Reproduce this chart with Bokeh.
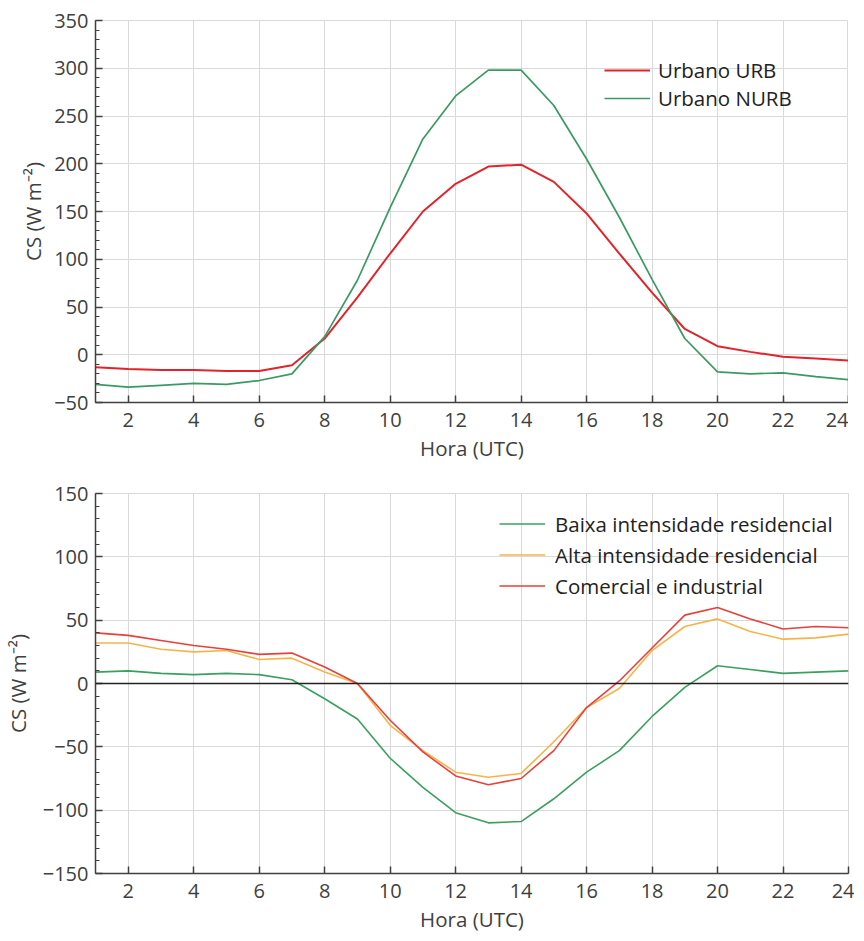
from bokeh.plotting import figure
from bokeh.models import Range1d, FixedTicker, Legend, LegendItem, Span
from bokeh.layouts import column
from bokeh.embed import file_html
from bokeh.resources import INLINE

hours = list(range(1, 25))

# Top panel
urb = [-13, -15, -16, -16, -17, -17, -11, 17, 60, 106, 150, 179, 197, 199, 181, 148, 106, 65, 27, 9, 3, -2, -4, -6]
nurb = [-31, -34, -32, -30, -31, -27, -20, 19, 78, 154, 226, 271, 298, 298, 261, 205, 144, 79, 17, -18, -20, -19, -23, -26]

# Bottom panel
baixa = [9, 10, 8, 7, 8, 7, 3, -12, -28, -59, -82, -102, -110, -109, -91, -70, -53, -26, -3, 14, 11, 8, 9, 10]
alta = [32, 32, 27, 25, 26, 19, 20, 9, 0, -33, -53, -70, -74, -71, -46, -19, -4, 26, 45, 51, 41, 35, 36, 39]
comercial = [40, 38, 34, 30, 27, 23, 24, 13, 0, -29, -54, -73, -80, -75, -53, -19, 2, 28, 54, 60, 51, 43, 45, 44]

x_ticks = list(range(2, 25, 2))
top_y_ticks = list(range(-50, 351, 50))
top_y_minor = list(range(-50, 351, 10))
bot_y_ticks = list(range(-150, 151, 50))
bot_y_minor = list(range(-150, 151, 10))

FONT = "Open Sans"
AX = "#404040"
GRID = "#d9d9d9"


def style(p, yticks, yminor, ylabel_standoff):
    p.xaxis.ticker = FixedTicker(ticks=x_ticks)
    p.yaxis.ticker = FixedTicker(ticks=yticks, minor_ticks=yminor)
    p.xgrid.ticker = FixedTicker(ticks=x_ticks)
    p.ygrid.ticker = FixedTicker(ticks=yticks)
    p.grid.grid_line_color = GRID
    p.grid.grid_line_width = 1
    p.outline_line_color = GRID
    p.outline_line_width = 1
    for ax in (p.xaxis[0], p.yaxis[0]):
        ax.axis_line_color = AX
        ax.axis_line_width = 1.5
        ax.major_tick_line_color = AX
        ax.major_tick_line_width = 1.5
        ax.minor_tick_line_color = AX
        ax.major_tick_out = 0
        ax.major_tick_in = 7
        ax.minor_tick_out = 0
        ax.minor_tick_in = 4
        ax.major_label_text_font = FONT
        ax.major_label_text_font_size = "20px"
        ax.major_label_text_color = AX
        ax.axis_label_text_font = FONT
        ax.axis_label_text_font_size = "20.5px"
        ax.axis_label_text_font_style = "normal"
        ax.axis_label_text_color = AX
    p.xaxis.minor_tick_line_color = None
    p.xaxis.major_label_standoff = 10
    p.yaxis.major_label_standoff = 7
    p.xaxis.axis_label = "Hora (UTC)"
    p.yaxis.axis_label = "CS (W m\u207b\u00b2)"
    p.xaxis.axis_label_standoff = 4
    p.yaxis.axis_label_standoff = ylabel_standoff
    p.background_fill_color = "white"
    p.border_fill_color = "white"


p1 = figure(frame_width=753, frame_height=382, output_backend="svg", toolbar_location=None,
            x_range=Range1d(1, 24), y_range=Range1d(-50, 350),
            min_border_left=86, min_border_right=9, min_border_top=20, min_border_bottom=68)
style(p1, top_y_ticks, top_y_minor, 4)
r_urb = p1.line(hours, urb, line_color="#e3232b", line_width=2)
r_nurb = p1.line(hours, nurb, line_color="#3a9a64", line_width=1.7)
leg1 = Legend(items=[LegendItem(label="Urbano URB", renderers=[r_urb]),
                     LegendItem(label="Urbano NURB", renderers=[r_nurb])],
              location=(509, 290), padding=0, spacing=0, margin=0,
              glyph_width=46, glyph_height=28, label_height=28, label_standoff=8,
              label_text_font=FONT, label_text_font_size="20.5px", label_text_color="#222222",
              background_fill_alpha=0, border_line_color=None)
p1.add_layout(leg1)

p2 = figure(frame_width=753, frame_height=380, output_backend="svg", toolbar_location=None,
            x_range=Range1d(1, 24), y_range=Range1d(-150, 150),
            min_border_left=89, min_border_right=6, min_border_top=23, min_border_bottom=60)
style(p2, bot_y_ticks, bot_y_minor, 8)
p2.add_layout(Span(location=0, dimension="width", line_color="#222222", line_width=1.5))
r_b = p2.line(hours, baixa, line_color="#3aa060", line_width=1.6)
r_a = p2.line(hours, alta, line_color="#f5b44a", line_width=1.6)
r_c = p2.line(hours, comercial, line_color="#e8403a", line_width=1.6)
leg2 = Legend(items=[LegendItem(label="Baixa intensidade residencial", renderers=[r_b]),
                     LegendItem(label="Alta intensidade residencial", renderers=[r_a]),
                     LegendItem(label="Comercial e industrial", renderers=[r_c])],
              location=(404, 272), padding=0, spacing=0, margin=0,
              glyph_width=46, glyph_height=31, label_height=31, label_standoff=10,
              label_text_font=FONT, label_text_font_size="20.5px", label_text_color="#222222",
              background_fill_alpha=0, border_line_color=None)
p2.add_layout(leg2)

layout = column(p1, p2, spacing=0)
open("out.html", "w").write(file_html(layout, INLINE))
